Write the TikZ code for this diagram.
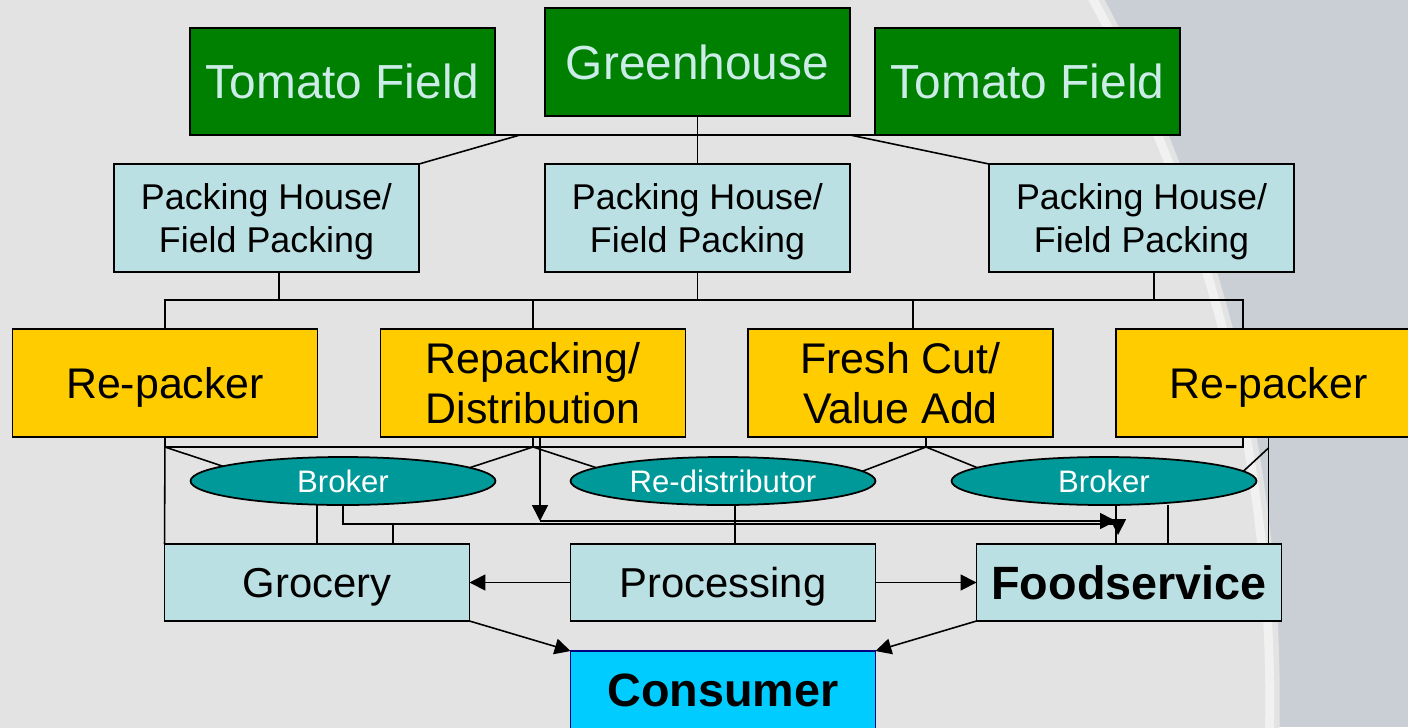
\documentclass[tikz,border=0pt]{standalone}
\usepackage{fontspec}
\setmainfont{Liberation Sans}
\usetikzlibrary{shapes.geometric,arrows.meta}
\definecolor{farmgreen}{RGB}{0,128,0}
\definecolor{farmtext}{RGB}{204,236,232}
\definecolor{paleblue}{RGB}{187,224,227}
\definecolor{packyellow}{RGB}{255,204,0}
\definecolor{brokerteal}{RGB}{0,153,153}
\definecolor{consumerblue}{RGB}{0,204,255}
\definecolor{consumerline}{RGB}{0,0,128}
\definecolor{plategray}{RGB}{227,227,227}
\definecolor{clothgray}{RGB}{202,207,213}
\tikzset{
	box/.style={draw, line width=1pt, inner sep=0pt, outer sep=0pt, minimum width=6.1cm, align=center, text depth=0pt},
	farm/.style={box, fill=farmgreen, text=farmtext, minimum height=2.14cm, font=\fontsize{27.2}{32}\selectfont},
	packer/.style={box, fill=paleblue, minimum height=2.16cm, font=\fontsize{20.4}{24.4}\selectfont},
	handler/.style={box, fill=packyellow, minimum height=2.16cm, font=\fontsize{24.4}{28.3}\selectfont},
	agent/.style={ellipse, draw, line width=1pt, fill=brokerteal, text=white, inner sep=0pt, outer sep=0pt, minimum width=6.1cm, minimum height=0.96cm, font=\fontsize{17.7}{20}\selectfont},
	outlet/.style={box, fill=paleblue, minimum height=1.54cm, font=\fontsize{23.8}{28}\selectfont},
	link/.style={line width=0.9pt}
}

\begin{document}
\begin{tikzpicture}[x=0.02cm, y=-0.02cm, >={Triangle[length=9pt,width=9pt]}]
		\useasboundingbox (0,0) rectangle (1408,727);
		\fill[clothgray] (0,0) rectangle (1408,727);
		\fill[plategray] (-205,700) circle (29.7cm);
		\draw[white, line width=5pt, opacity=0.5] (-205,700) circle (29.5cm);

		\node[farm] (tf1) at (342.5,81.5) {Tomato Field};
		\node[farm, minimum height=2.16cm] (gh) at (697.5,62) {Greenhouse};
		\node[farm] (tf2) at (1027.5,81.5) {Tomato Field};

		\node[packer] (ph1) at (266.5,218) {Packing House/\\Field Packing};
		\node[packer] (ph2) at (697.5,218) {Packing House/\\Field Packing};
		\node[packer] (ph3) at (1141.5,218) {Packing House/\\Field Packing};

		\node[handler] (rp1) at (165,383) {Re-packer};
		\node[handler] (rd1) at (533,383) {Repacking/\\Distribution};
		\node[handler] (fc1) at (900.5,383) {Fresh Cut/\\Value Add};
		\node[handler] (rp2) at (1268.5,383) {Re-packer};

		\node[agent] (br1) at (343,481) {Broker};
		\node[agent] (red) at (723,481) {Re-distributor};
		\node[agent] (br2) at (1104,481) {Broker};

		\node[outlet] (gro) at (317,582.5) {Grocery};
		\node[outlet] (pro) at (723,582.5) {Processing};
		\node[outlet, font=\fontsize{26.6}{30}\selectfont\bfseries] (fs) at (1129,582.5) {Foodservice};
		\node[box, fill=consumerblue, draw=consumerline, minimum height=1.56cm, font=\fontsize{26.6}{30}\selectfont\bfseries] (con) at (723,690) {Consumer};

		\coordinate (j1) at (520,135);
		\coordinate (j2) at (850,135);
		\draw[link] (tf1.south east) -- (tf2.south west);
		\draw[link] (gh.south) -- (ph2.north);
		\draw[link] (j1) -- (ph1.north east);
		\draw[link] (j2) -- (ph3.north west);

		\coordinate (t1) at (279,300);
		\coordinate (t2) at (697.5,300);
		\coordinate (t3) at (1154,300);
		\coordinate (t4) at (913,300);
		\coordinate (bus1e) at (1243,300);
		\draw[link] (rp1.north) |- (bus1e) -- (bus1e |- rp2.north);
		\draw[link] (ph1.south -| t1) -- (t1);
		\draw[link] (ph2.south) -- (t2);
		\draw[link] (ph3.south -| t3) -- (t3);
		\draw[link] (rd1.north) -- (rd1.north |- t1);
		\draw[link] (t4) -- (t4 |- fc1.north);

		\coordinate (u1) at (165,447);
		\coordinate (u2) at (533,447);
		\coordinate (u3) at (926,447);
		\coordinate (u4) at (1268.5,448);
		\coordinate (u5) at (1243,447);
		\draw[link] (rp1.south) -- (gro.north west);
		\draw[link] (u1) -- (u5) -- (u5 |- rp2.south);
		\draw[link] (rd1.south) -- (u2);
		\draw[link] (u3 |- fc1.south) -- (u3);
		\draw[link] (rp2.south) -- (rp2.south |- fs.north);
		\draw[link] (u1) -- (br1.173);
		\draw[link] (u2) -- (br1.6);
		\draw[link] (u2) -- (red.174);
		\draw[link] (u3) -- (red.4);
		\draw[link] (u3) -- (br2.174);
		\draw[link] (u4) -- (br2.4);

		\coordinate (e1) at (1118,524);
		\coordinate (e2) at (1118,535);
		\coordinate (e3) at (393,524);
		\coordinate (d1) at (540,521);
		\coordinate (d2) at (1116,521);
		\coordinate (p1) at (735,544);
		\coordinate (f1) at (1116,544);
		\coordinate (f2) at (1168,544);
		\draw[link] (br1.south -| gro.north) -- (gro.north);
		\draw[link,->] (br1.south) |- (e1) -- (e2);
		\draw[link] (e3) -- (e3 |- gro.north);
		\draw[link,->] (rd1.south -| d1) -- (d1);
		\draw[link,->] (d1) -- (d2);
		\draw[link] (p1 |- red.south) -- (p1);
		\draw[link] (f1 |- br2.south) -- (f1);
		\draw[link] (f2 |- br2.south) -- (f2);
		\draw[link,->] (pro) -- (gro);
		\draw[link,->] (pro) -- (fs);
		\draw[link,->] (gro.south east) -- (con.north west);
		\draw[link,->] (fs.south west) -- (con.north east);
	\end{tikzpicture}
\end{document}
